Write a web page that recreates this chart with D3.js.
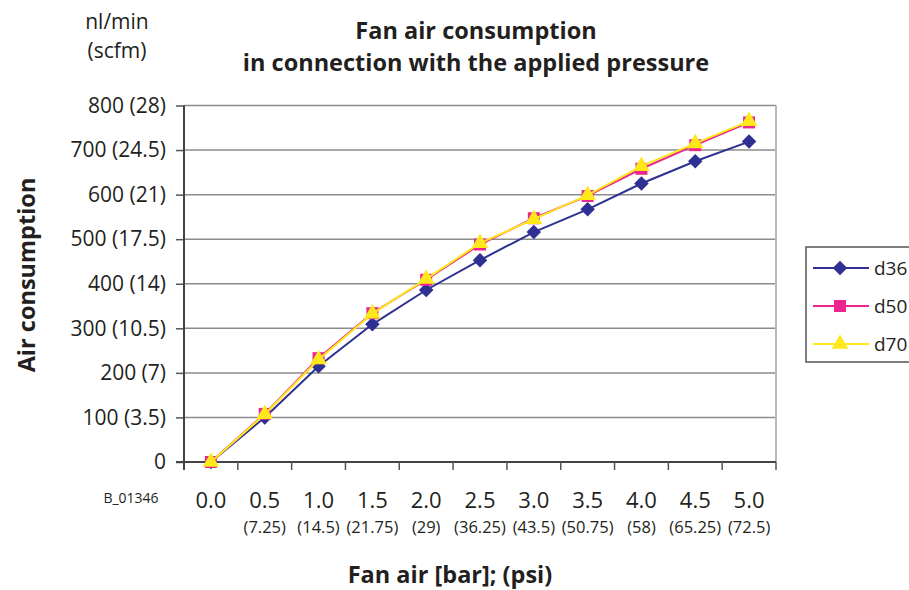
<!DOCTYPE html>
<html>
<head>
<meta charset="utf-8">
<script src="https://cdn.jsdelivr.net/npm/d3@7"></script>
<style>
  body { margin: 0; background: #fff; }
  text { font-family: "Open Sans", "Noto Sans", sans-serif; fill: #231f20; }
</style>
</head>
<body>
<div id="vis"></div>
<script>
// pressure categories (bar) and their psi equivalents
var barLabels = ["0.0", "0.5", "1.0", "1.5", "2.0", "2.5", "3.0", "3.5", "4.0", "4.5", "5.0"];
var psiLabels = ["", "(7.25)", "(14.5)", "(21.75)", "(29)", "(36.25)", "(43.5)", "(50.75)", "(58)", "(65.25)", "(72.5)"];

// y ticks, nl/min with scfm in brackets
var yTicks = [0, 100, 200, 300, 400, 500, 600, 700, 800];
var yTickLabels = ["0", "100 (3.5)", "200 (7)", "300 (10.5)", "400 (14)", "500 (17.5)", "600 (21)", "700 (24.5)", "800 (28)"];

// air consumption, nl/min
var d36 = [0, 100, 215, 309, 386, 453, 516, 567, 625, 675, 719];
var d50 = [0, 108, 233, 334, 409, 488, 547, 597, 658, 711, 762];
var d70 = [0, 107, 230, 333, 411, 491, 545, 599, 664, 715, 765];

var seriesNames = ["d36", "d50", "d70"];
var seriesValues = [d36, d50, d70];
var seriesColours = ["#2e3192", "#ec268f", "#ffe81a"];

function drawChart(){
    var width = 909, height = 590;
    var plotLeft = 184, plotRight = 776, plotTop = 105.5, plotBottom = 462;

    var svg = d3.select("#vis").append("svg")
        .attr("width", width)
        .attr("height", height);

    var x = d3.scaleBand().domain(barLabels).range([plotLeft, plotRight]);
    var y = d3.scaleLinear().domain([0, 800]).range([plotBottom, plotTop]);

    // gridlines
    svg.append("g").selectAll("line")
        .data(yTicks.filter(function(d){ return d > 0; }))
        .enter().append("line")
        .attr("x1", plotLeft).attr("x2", plotRight)
        .attr("y1", function(d){ return y(d); })
        .attr("y2", function(d){ return y(d); })
        .attr("stroke", "#8c8c8c")
        .attr("stroke-width", 1.5);

    // right border of plot
    svg.append("line")
        .attr("x1", plotRight).attr("x2", plotRight)
        .attr("y1", plotTop).attr("y2", plotBottom)
        .attr("stroke", "#b4b8bc").attr("stroke-width", 2);

    // y axis
    var yAxis = d3.axisLeft(y)
        .tickValues(yTicks)
        .tickSize(8)
        .tickPadding(10)
        .tickFormat(function(d, i){ return yTickLabels[i]; });

    var gy = svg.append("g")
        .attr("transform", "translate(" + plotLeft + ",0)")
        .call(yAxis);
    gy.select(".domain").remove();
    gy.selectAll(".tick line").attr("stroke", "#555").attr("stroke-width", 1.5);
    gy.selectAll(".tick text")
        .style("font-size", "21px")
        .style("font-family", "'Open Sans', sans-serif")
        .attr("fill", "#231f20");
    svg.append("line")
        .attr("x1", plotLeft).attr("x2", plotLeft)
        .attr("y1", plotTop).attr("y2", plotBottom + 8)
        .attr("stroke", "#444").attr("stroke-width", 2);

    // x axis, ticks between the categories
    var boundaries = barLabels.map(function(d){ return x(d) + x.bandwidth(); });
    svg.append("line")
        .attr("x1", plotLeft - 8).attr("x2", plotRight)
        .attr("y1", plotBottom).attr("y2", plotBottom)
        .attr("stroke", "#444").attr("stroke-width", 2);
    svg.append("g").selectAll("line")
        .data(boundaries)
        .enter().append("line")
        .attr("x1", function(d){ return d; })
        .attr("x2", function(d){ return d; })
        .attr("y1", plotBottom).attr("y2", plotBottom + 8)
        .attr("stroke", "#555").attr("stroke-width", 1.5);

    svg.append("g").selectAll("text")
        .data(barLabels)
        .enter().append("text")
        .attr("x", function(d){ return x(d) + x.bandwidth() / 2; })
        .attr("y", 508)
        .attr("text-anchor", "middle")
        .style("font-size", "22px")
        .text(function(d){ return d; });

    svg.append("g").selectAll("text")
        .data(psiLabels)
        .enter().append("text")
        .attr("x", function(d, i){ return x(barLabels[i]) + x.bandwidth() / 2; })
        .attr("y", 533)
        .attr("text-anchor", "middle")
        .style("font-size", "16.5px")
        .text(function(d){ return d; });

    // series
    var line = d3.line()
        .x(function(d, i){ return x(barLabels[i]) + x.bandwidth() / 2; })
        .y(function(d){ return y(d); });

    var symbols = [
        d3.symbol().type(d3.symbolSquare).size(105),
        d3.symbol().type(d3.symbolSquare).size(144),
        d3.symbol().type(d3.symbolTriangle).size(120)
    ];
    var rotations = [45, 0, 0];

    seriesValues.forEach(function(vals, s){
        var g = svg.append("g");
        g.append("path")
            .datum(vals)
            .attr("d", line)
            .attr("fill", "none")
            .attr("stroke", seriesColours[s])
            .attr("stroke-width", 2);
        g.selectAll("path.mark")
            .data(vals)
            .enter().append("path")
            .attr("class", "mark")
            .attr("d", symbols[s])
            .attr("fill", seriesColours[s])
            .attr("transform", function(d, i){
                return "translate(" + (x(barLabels[i]) + x.bandwidth() / 2) + "," + y(d) + ") rotate(" + rotations[s] + ")";
            });
    });

    // legend (box runs past the right edge, as in the original)
    var legend = svg.append("g");
    legend.append("rect")
        .attr("x", 806).attr("y", 247)
        .attr("width", 130).attr("height", 115)
        .attr("fill", "#fff")
        .attr("stroke", "#555").attr("stroke-width", 1.5);
    seriesNames.forEach(function(name, s){
        var ly = 268 + s * 38;
        legend.append("line")
            .attr("x1", 813).attr("x2", 869)
            .attr("y1", ly).attr("y2", ly)
            .attr("stroke", seriesColours[s]).attr("stroke-width", 2);
        legend.append("path")
            .attr("d", symbols[s])
            .attr("fill", seriesColours[s])
            .attr("transform", "translate(840," + ly + ") rotate(" + rotations[s] + ")");
        legend.append("text")
            .attr("x", 874).attr("y", ly + 7)
            .style("font-size", "19px")
            .text(name);
    });

    // titles
    svg.append("text")
        .attr("x", 476).attr("y", 39)
        .attr("text-anchor", "middle")
        .style("font-size", "23.5px").style("font-weight", "bold")
        .text("Fan air consumption");
    svg.append("text")
        .attr("x", 476).attr("y", 71)
        .attr("text-anchor", "middle")
        .style("font-size", "23.5px").style("font-weight", "bold")
        .text("in connection with the applied pressure");

    svg.append("text")
        .attr("x", 117).attr("y", 29)
        .attr("text-anchor", "middle")
        .style("font-size", "21px")
        .text("nl/min");
    svg.append("text")
        .attr("x", 117).attr("y", 58)
        .attr("text-anchor", "middle")
        .style("font-size", "21px")
        .text("(scfm)");

    svg.append("text")
        .attr("transform", "translate(35,275) rotate(-90)")
        .attr("text-anchor", "middle")
        .style("font-size", "23.5px").style("font-weight", "bold")
        .text("Air consumption");

    svg.append("text")
        .attr("x", 131).attr("y", 503)
        .attr("text-anchor", "middle")
        .style("font-size", "14px")
        .text("B_01346");

    svg.append("text")
        .attr("x", 450).attr("y", 583)
        .attr("text-anchor", "middle")
        .style("font-size", "23.5px").style("font-weight", "bold")
        .text("Fan air [bar]; (psi)");
}

drawChart();
</script>
</body>
</html>
